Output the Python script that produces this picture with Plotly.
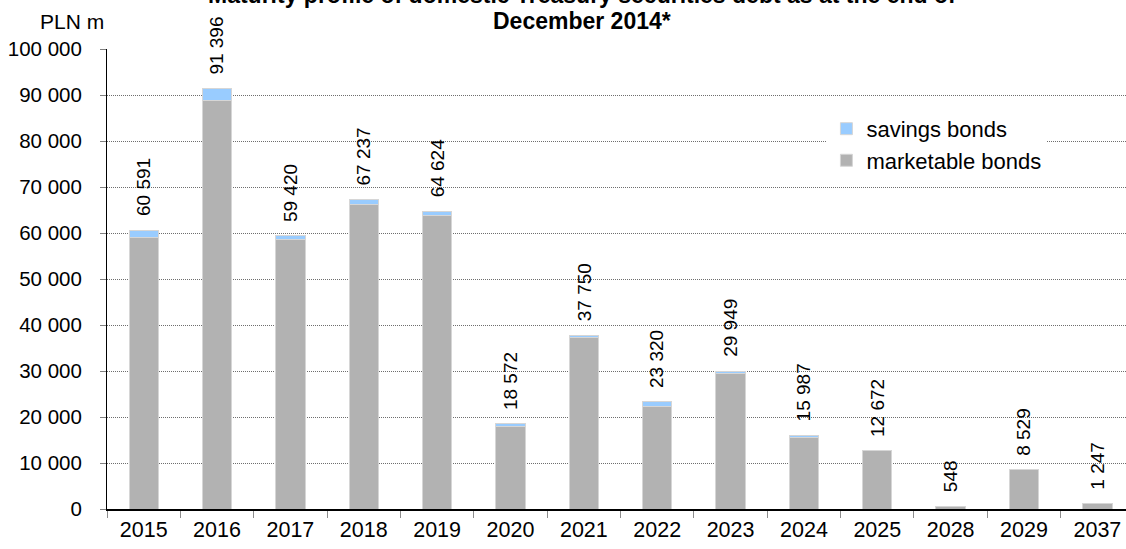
import plotly.graph_objects as go

# Maturity years and debt outstanding (PLN m)
years = ["2015", "2016", "2017", "2018", "2019", "2020", "2021",
         "2022", "2023", "2024", "2025", "2028", "2029", "2037"]
totals = [60591, 91396, 59420, 67237, 64624, 18572, 37750,
          23320, 29949, 15987, 12672, 548, 8529, 1247]
savings = [1600, 2600, 800, 1050, 850, 600, 480,
           960, 560, 480, 0, 0, 0, 0]
marketable = [t - s for t, s in zip(totals, savings)]

y_ticks = list(range(0, 100001, 10000))
y_tick_text = [f"{v:,}".replace(",", " ") for v in y_ticks]

title_lines = ["Maturity profile of domestic Treasury securities debt as at the end of",
               "December 2014*"]

FONT = "Liberation Sans, Arial, sans-serif"

fig = go.Figure()
fig.add_trace(go.Bar(
    x=years, y=marketable, name="marketable bonds",
    marker=dict(color="#B2B2B2", line=dict(color="#D6D6D6", width=1)),
))
fig.add_trace(go.Bar(
    x=years, y=savings, name="savings bonds",
    marker=dict(color="#99CCFF", line=dict(color="#D6D6D6", width=1)),
))

# Total value labels above each stack (category axis positions are indices)
for i, tot in enumerate(totals):
    fig.add_annotation(
        x=i, y=tot, xref="x", yref="y",
        text=f"{tot:,}".replace(",", " "),
        textangle=-90, showarrow=False,
        xanchor="center", yanchor="bottom", yshift=12,
        font=dict(size=19, color="black", family=FONT),
    )

# Two-line bold title, placed line by line for a tight line pitch
for line, shift in zip(title_lines, [54, 28]):
    fig.add_annotation(
        xref="paper", yref="paper", x=0.466, y=1, yshift=shift,
        xanchor="center", yanchor="middle", showarrow=False,
        text=f"<b>{line}</b>",
        font=dict(size=23, color="black", family=FONT),
    )

fig.add_annotation(
    xref="paper", yref="paper", x=0, y=1, yshift=28, xshift=-1,
    xanchor="right", yanchor="middle", showarrow=False,
    text="PLN m", font=dict(size=21, color="black", family=FONT),
)

fig.update_layout(
    width=1126, height=549,
    margin=dict(l=107, r=0, t=49, b=40),
    barmode="stack", bargap=0.6,
    plot_bgcolor="white", paper_bgcolor="white",
    font=dict(family=FONT, size=20, color="black"),
    showlegend=True,
    legend=dict(
        x=0.706, y=0.872, xanchor="left", yanchor="top",
        traceorder="reversed", bgcolor="white",
        font=dict(size=22, color="black", family=FONT),
        itemwidth=30,
    ),
)
fig.update_xaxes(
    type="category", categoryorder="array", categoryarray=years,
    range=[-0.5, 13.39], tickangle=0,
    showline=True, linecolor="black", linewidth=1.5,
    ticks="outside", tickson="boundaries", ticklen=7, tickcolor="#8c8c8c",
    showgrid=False, tickfont=dict(size=21.5),
)
fig.update_yaxes(
    range=[0, 100000], tickvals=y_ticks, ticktext=y_tick_text,
    showline=True, linecolor="black", linewidth=1,
    ticks="outside", ticklen=6, tickcolor="#808080",
    ticklabelstandoff=14,
    showgrid=True, gridcolor="#6e6e6e", griddash="1px,1px", gridwidth=1,
    zeroline=False, tickfont=dict(size=20.5),
)

fig.write_html("out.html")
